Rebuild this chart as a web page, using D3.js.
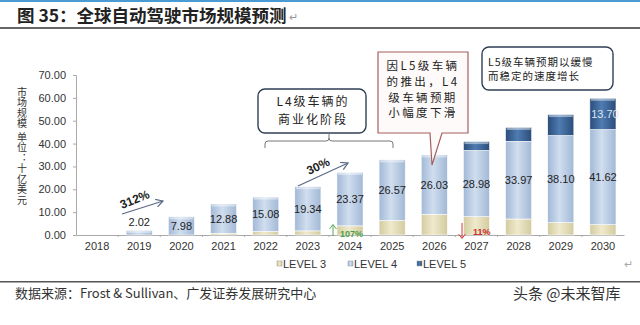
<!DOCTYPE html>
<html lang="zh">
<head>
<meta charset="UTF-8">
<title>全球自动驾驶市场规模预测</title>
<style>
  body { margin: 0; background: #fff; }
  svg { display: block; font-family: Arial, "Liberation Sans", sans-serif; }
  .cjk { font-family: "Noto Sans CJK SC", sans-serif; }
</style>
</head>
<body>
<svg id="chart"></svg>
<script src="https://cdnjs.cloudflare.com/ajax/libs/d3/7.8.5/d3.min.js"></script>
<script>
/* data */
const years = ["2018", "2019", "2020", "2021", "2022", "2023", "2024",
               "2025", "2026", "2027", "2028", "2029", "2030"];
const level3 = [0, 0, 0, 0.7, 1.5, 1.8, 4.0, 6.3, 9.0, 8.0, 7.0, 5.4, 4.5];
const level4 = [0, 2.02, 7.98, 12.88, 15.08, 19.34, 23.37, 26.57, 26.03, 28.98, 33.97, 38.10, 41.62];
const level5 = [0, 0, 0, 0, 0, 0, 0, 0, 0, 3.9, 6.1, 9.2, 13.70];
const yTicks = [0, 10, 20, 30, 40, 50, 60, 70];
const seriesNames = ["LEVEL 3", "LEVEL 4", "LEVEL 5"];

/* layout */
const width = 640;
const height = 325;
const plot = {left: 76, right: 624, top: 75, bottom: 235};

const svg = d3.select("#chart")
    .attr("width", width)
    .attr("height", height);

const x = d3.scaleBand().domain(years).range([plot.left, plot.right]).paddingInner(0.38).paddingOuter(0.19);
const y = d3.scaleLinear().domain([0, 70]).range([plot.bottom, plot.top]);

/* gradients for the shaded bars */
const colors = [
    {id: "g3", edge: "#d3cb9f", mid: "#efeacd"},
    {id: "g4", edge: "#a2b8d6", mid: "#d0deef"},
    {id: "g5", edge: "#2b4d7a", mid: "#4f7cb2"}
];
const defs = svg.append("defs");
colors.forEach(c => {
    const g = defs.append("linearGradient").attr("id", c.id)
        .attr("x1", 0).attr("x2", 1).attr("y1", 0).attr("y2", 0);
    g.append("stop").attr("offset", "0%").attr("stop-color", c.edge);
    g.append("stop").attr("offset", "45%").attr("stop-color", c.mid);
    g.append("stop").attr("offset", "100%").attr("stop-color", c.edge);
});
defs.append("marker").attr("id", "arr")
    .attr("markerWidth", 10).attr("markerHeight", 10)
    .attr("refX", 7).attr("refY", 4).attr("orient", "auto")
    .attr("markerUnits", "userSpaceOnUse")
    .append("path").attr("d", "M0,0 L7,4 L0,8")
    .attr("fill", "none").attr("stroke", "#5a6a85").attr("stroke-width", 1.2);

/* multi-line text in one element */
const multiline = (g, lines, x0, y0, dy, size, spacing, anchor) => {
    const t = g.append("text").attr("class", "cjk")
        .attr("font-size", size).attr("letter-spacing", spacing)
        .attr("text-anchor", anchor).attr("fill", "#222");
    lines.forEach((s, i) => {
        t.append("tspan").attr("x", x0).attr("y", y0 + i * dy).text(s);
    });
    return t;
};

/* header */
svg.append("rect").attr("x", 0).attr("y", 0).attr("width", width).attr("height", 2).attr("fill", "#4a9bd4");
svg.append("text").attr("class", "cjk")
    .attr("x", 17).attr("y", 22)
    .attr("font-size", 17.5).attr("font-weight", "bold").attr("fill", "#222")
    .text("图 35：全球自动驾驶市场规模预测");
svg.append("text").attr("x", 289).attr("y", 21).attr("font-size", 11).attr("fill", "#999").text("↵");
svg.append("rect").attr("x", 0).attr("y", 27).attr("width", width).attr("height", 2).attr("fill", "#666");

/* y axis title, vertical */
svg.append("text").attr("class", "cjk")
    .attr("x", 22).attr("y", 87)
    .style("writing-mode", "vertical-rl")
    .attr("font-size", 10).attr("letter-spacing", 0.5).attr("fill", "#333")
    .text("市场规模 单位：十亿美元");

/* axes */
const yAxis = svg.append("g")
    .attr("transform", `translate(${plot.left},0)`)
    .call(d3.axisLeft(y).tickValues(yTicks).tickFormat(d3.format(".2f")).tickSize(3).tickPadding(7));
yAxis.select(".domain").attr("stroke", "#aaa");
yAxis.selectAll(".tick line").attr("stroke", "#aaa");
yAxis.selectAll("text").attr("font-size", 11).attr("fill", "#333").attr("font-family", "Arial, sans-serif");

const xAxis = svg.append("g")
    .attr("transform", `translate(0,${plot.bottom})`)
    .call(d3.axisBottom(x).tickSize(0).tickPadding(7));
xAxis.select(".domain").attr("stroke", "#aaa");
xAxis.selectAll("text").attr("font-size", 11).attr("fill", "#333").attr("font-family", "Arial, sans-serif");
/* small separators between categories */
svg.append("g").selectAll("line").data(years.slice(1)).enter().append("line")
    .attr("x1", d => x(d) - x.step() * x.paddingInner() / 2)
    .attr("x2", d => x(d) - x.step() * x.paddingInner() / 2)
    .attr("y1", plot.bottom).attr("y2", plot.bottom + 2)
    .attr("stroke", "#aaa");

/* stacked bars */
const rows = years.map((yr, i) => ({year: yr, l3: level3[i], l4: level4[i], l5: level5[i]}));
const stack = d3.stack().keys(["l3", "l4", "l5"])(rows);
const bars = svg.append("g");
stack.forEach((layer, k) => {
    bars.selectAll(null).data(layer.filter(d => d[1] > d[0])).enter().append("rect")
        .attr("x", d => x(d.data.year))
        .attr("y", d => y(d[1]))
        .attr("width", x.bandwidth())
        .attr("height", d => y(d[0]) - y(d[1]))
        .attr("fill", `url(#${colors[k].id})`)
        .attr("stroke", "#ffffff").attr("stroke-width", 0.6);
});
/* light top caps */
bars.selectAll(null).data(stack[2].filter(d => d[1] > 0)).enter().append("rect")
    .attr("x", d => x(d.data.year) + 1)
    .attr("y", d => y(d[1]) + 0.5)
    .attr("width", x.bandwidth() - 2)
    .attr("height", 2)
    .attr("fill", "#ffffff").attr("opacity", 0.45);

/* value labels for level 4 */
svg.append("g").selectAll("text").data(stack[1].filter(d => d[1] > d[0])).enter().append("text")
    .attr("x", d => x(d.data.year) + x.bandwidth() / 2)
    .attr("y", d => {
        const h = y(d[0]) - y(d[1]);
        return h < 14 ? y(d[1]) - 4 : (y(d[0]) + y(d[1])) / 2 + 4;
    })
    .attr("text-anchor", "middle")
    .attr("font-size", 11).attr("fill", "#222")
    .text(d => d3.format(".2f")(d.data.l4));
/* value label for level 5 in the last year */
const last = stack[2][stack[2].length - 1];
svg.append("text")
    .attr("x", x(last.data.year) + x.bandwidth() / 2 + 2)
    .attr("y", (y(last[0]) + y(last[1])) / 2 + 4)
    .attr("text-anchor", "middle")
    .attr("font-size", 11).attr("fill", "#dce6f3")
    .text(d3.format(".2f")(last.data.l5));

/* growth arrows */
const note = svg.append("g");
note.append("line").attr("x1", 122).attr("y1", 214).attr("x2", 163).attr("y2", 201)
    .attr("stroke", "#5a6a85").attr("stroke-width", 1.2).attr("marker-end", "url(#arr)");
note.append("text").attr("transform", "translate(122,209) rotate(-22)")
    .attr("font-size", 12).attr("font-weight", "bold").attr("fill", "#222").text("312%");
note.append("line").attr("x1", 298).attr("y1", 186).attr("x2", 348).attr("y2", 163)
    .attr("stroke", "#5a6a85").attr("stroke-width", 1.2).attr("marker-end", "url(#arr)");
note.append("text").attr("transform", "translate(309,175) rotate(-25)")
    .attr("font-size", 12).attr("font-weight", "bold").attr("fill", "#222").text("30%");

/* 107% up, 11% down */
note.append("path").attr("d", "M333,236 V225 M329.5,229 L333,224.5 L336.5,229")
    .attr("fill", "none").attr("stroke", "#5aa857").attr("stroke-width", 1);
note.append("text").attr("x", 340).attr("y", 237)
    .attr("font-size", 9).attr("font-weight", "bold").attr("fill", "#4e9f4c").text("107%");
note.append("path").attr("d", "M462,223 V238 M458.5,234 L462,238.5 L465.5,234")
    .attr("fill", "none").attr("stroke", "#d23a3a").attr("stroke-width", 1);
note.append("text").attr("x", 473).attr("y", 235)
    .attr("font-size", 9).attr("font-weight", "bold").attr("fill", "#c83030").text("11%");

/* L4 commercial stage box and brace */
note.append("rect").attr("x", 258).attr("y", 89).attr("width", 108).attr("height", 44)
    .attr("rx", 7).attr("fill", "#fff").attr("stroke", "#2f3f55").attr("stroke-width", 1.4);
multiline(note, ["L4级车辆的", "商业化阶段"], 313, 106, 17.5, 12, 2, "middle");
note.append("path")
    .attr("d", "M265,148 V144 Q265,141 268,141 H326 Q329,141 329,138 V133 M329,138 Q329,141 332,141 H390 Q393,141 393,144 V148")
    .attr("fill", "none").attr("stroke", "#777").attr("stroke-width", 1);

/* L5 launch callout */
note.append("path")
    .attr("d", "M378,52 H468 V133 H442 L432,165 L430,133 H378 Z")
    .attr("fill", "#fefafa").attr("stroke", "#a5605f").attr("stroke-width", 1.2);
multiline(note, ["因L5级车辆", "的推出，L4", "级车辆预期", "小幅度下滑"], 423, 70, 15.8, 11.5, 2.4, "middle");

/* L5 growth box */
note.append("rect").attr("x", 482).attr("y", 47).attr("width", 131).attr("height", 43)
    .attr("rx", 7).attr("fill", "#fff").attr("stroke", "#2f3f55").attr("stroke-width", 1.4);
multiline(note, ["L5级车辆预期以缓慢", "而稳定的速度增长"], 488, 66, 14, 10.5, 1.0, "start");

/* legend */
const legX = [277, 348, 417];
const legend = svg.append("g");
seriesNames.forEach((name, i) => {
    legend.append("rect").attr("x", legX[i]).attr("y", 261).attr("width", 5).attr("height", 5)
        .attr("fill", `url(#${colors[i].id})`).attr("stroke", "#999").attr("stroke-width", 0.5);
    legend.append("text").attr("x", legX[i] + 6).attr("y", 268)
        .attr("font-size", 11).attr("fill", "#333").text(name);
});
svg.append("text").attr("x", 624).attr("y", 268).attr("font-size", 11).attr("fill", "#aaa").text("↵");

/* footer */
svg.append("rect").attr("x", 0).attr("y", 281).attr("width", width).attr("height", 1.5).attr("fill", "#555");
svg.append("text").attr("class", "cjk").attr("x", 15).attr("y", 298)
    .attr("font-size", 13).attr("fill", "#333")
    .text("数据来源：Frost & Sullivan、广发证券发展研究中心");
svg.append("text").attr("class", "cjk").attr("x", 513).attr("y", 299)
    .attr("font-size", 15).attr("fill", "#333")
    .text("头条 @未来智库");
</script>
</body>
</html>
